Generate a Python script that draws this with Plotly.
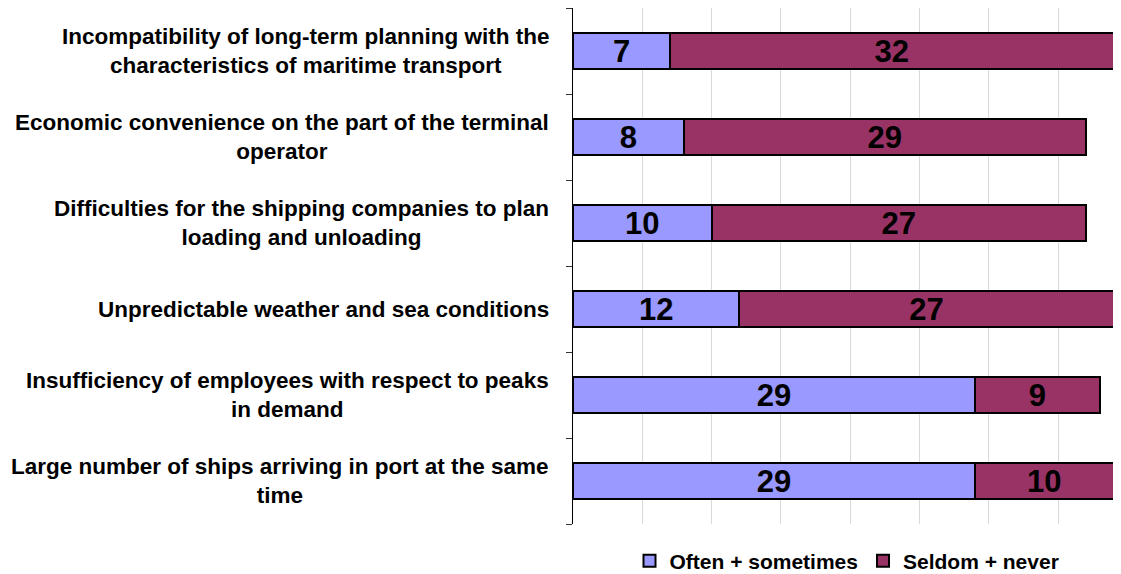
import plotly.graph_objects as go

categories = [
    "Incompatibility of long-term planning with the<br>characteristics of maritime transport",
    "Economic convenience on the part of the terminal<br>operator",
    "Difficulties for the shipping companies to plan<br>loading and unloading",
    "Unpredictable weather and sea conditions",
    "Insufficiency of employees with respect to peaks<br>in demand",
    "Large number of ships arriving in port at the same<br>time",
]
often_sometimes = [7, 8, 10, 12, 29, 29]
seldom_never = [32, 29, 27, 27, 9, 10]
series_names = ["Often + sometimes", "Seldom + never"]
series_colors = ["#9999FF", "#993366"]

FONT = "Liberation Sans, Arial, sans-serif"
ids = list(range(len(categories)))

fig = go.Figure()
for name, vals, col in zip(series_names, [often_sometimes, seldom_never], series_colors):
    fig.add_trace(go.Bar(
        y=ids, x=vals, name=name, orientation="h",
        marker=dict(color=col, line=dict(color="black", width=2)),
        width=0.42,
        text=[f"<b>{v}</b>" for v in vals],
        textposition="inside", insidetextanchor="middle", textangle=0,
        constraintext="none",
        textfont=dict(family=FONT, size=31, color="black"),
        hoverinfo="skip",
    ))

PLOT_W = 548
for i, c in enumerate(categories):
    fig.add_annotation(
        xref="paper", yref="y", x=-22 / PLOT_W, y=i, xanchor="right", yanchor="middle",
        text=f"<b>{c}</b>", align="center", showarrow=False,
        font=dict(family=FONT, size=22.5, color="black"),
    )

fig.update_layout(
    barmode="stack",
    width=1113, height=566,
    margin=dict(l=565, r=0, t=0, b=50, autoexpand=False),
    plot_bgcolor="white", paper_bgcolor="white",
    font=dict(family=FONT, color="black"),
    uniformtext=dict(minsize=31, mode="show"),
    showlegend=True,
    legend=dict(
        orientation="h", traceorder="normal",
        x=0.50, xanchor="center", y=-0.072, yanchor="middle",
        font=dict(family=FONT, size=21, color="black", weight="bold"),
        itemclick=False, itemdoubleclick=False,
    ),
    xaxis=dict(
        range=[0, 39.54], dtick=5, showgrid=True, gridcolor="#d9d9d9", gridwidth=1,
        showticklabels=False, zeroline=False, showline=False, ticks="",
        fixedrange=True,
    ),
    yaxis=dict(
        type="category", autorange="reversed",
        tickmode="array", tickvals=ids, ticktext=["" for _ in ids],
        showticklabels=False, ticks="outside", tickson="boundaries",
        ticklen=6, tickcolor="#333333", tickwidth=1,
        showline=True, linecolor="black", linewidth=1,
        showgrid=False, zeroline=False, fixedrange=True,
    ),
)

fig.write_html("out.html")
